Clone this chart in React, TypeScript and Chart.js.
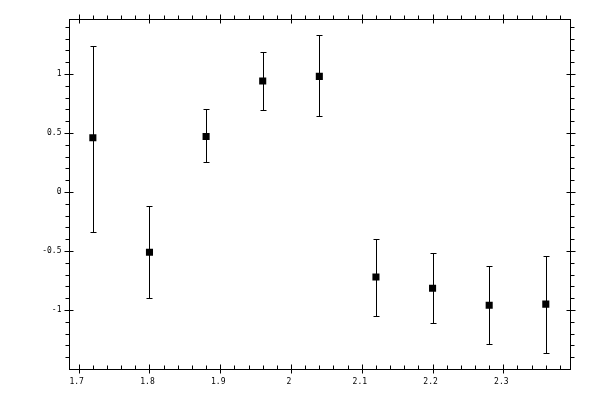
import { useEffect, useRef } from "react";
import { Chart, registerables } from "chart.js";

Chart.register(...registerables);

// 測定点 (x, y) と誤差範囲
const xValues = [1.72, 1.8, 1.88, 1.96, 2.04, 2.12, 2.2, 2.28, 2.36];
const yValues = [0.46, -0.51, 0.47, 0.94, 0.98, -0.72, -0.815, -0.96, -0.95];
const yUpper = [1.235, -0.12, 0.7, 1.19, 1.33, -0.395, -0.52, -0.625, -0.545];
const yLower = [-0.335, -0.9, 0.252, 0.692, 0.641, -1.053, -1.113, -1.291, -1.367];

// 軸の目盛り
const xMajorTicks = [1.7, 1.8, 1.9, 2.0, 2.1, 2.2, 2.3];
const xTickLabels = ["1.7", "1.8", "1.9", "2", "2.1", "2.2", "2.3"];
const yMajorTicks = [-1, -0.5, 0, 0.5, 1];
const yTickLabels = ["-1", "-0.5", "0", "0.5", "1"];
const xMinorStep = 0.02;
const yMinorStep = 0.1;

const X_MIN = 1.687;
const X_MAX = 2.3949;
const Y_MIN = -1.504;
const Y_MAX = 1.4619;

const FONT = "8px 'DejaVu Sans Mono'";

// 誤差棒を描くプラグイン
const errorBarPlugin = {
  id: "errorBars",
  beforeDatasetsDraw(chart: any) {
    const { ctx, scales } = chart;
    const xs = scales.x;
    const ys = scales.y;
    ctx.save();
    ctx.strokeStyle = "#000";
    ctx.lineWidth = 1;
    xValues.forEach((xv, i) => {
      const px = Math.round(xs.getPixelForValue(xv)) + 0.5;
      const top = Math.round(ys.getPixelForValue(yUpper[i])) + 0.5;
      const bot = Math.round(ys.getPixelForValue(yLower[i])) + 0.5;
      ctx.beginPath();
      ctx.moveTo(px, top);
      ctx.lineTo(px, bot);
      ctx.moveTo(px - 3, top);
      ctx.lineTo(px + 3, top);
      ctx.moveTo(px - 3, bot);
      ctx.lineTo(px + 3, bot);
      ctx.stroke();
    });
    ctx.restore();
  },
};

// 枠と目盛りを描くプラグイン
const framePlugin = {
  id: "frameTicks",
  afterDraw(chart: any) {
    const { ctx, chartArea, scales } = chart;
    const xs = scales.x;
    const ys = scales.y;
    const L = Math.floor(chartArea.left) + 0.5;
    const R = Math.floor(chartArea.right) + 0.5;
    const T = Math.floor(chartArea.top) + 0.5;
    const B = Math.floor(chartArea.bottom) + 0.5;
    ctx.save();
    ctx.strokeStyle = "#000";
    ctx.lineWidth = 1;
    ctx.strokeRect(L, T, R - L, B - T);

    ctx.beginPath();
    // x minor
    for (let v = Math.ceil(X_MIN / xMinorStep) * xMinorStep; v <= X_MAX; v += xMinorStep) {
      const px = Math.round(xs.getPixelForValue(v)) + 0.5;
      if (px - L < 2 || R - px < 2) continue;
      ctx.moveTo(px, T);
      ctx.lineTo(px, T - 4);
      ctx.moveTo(px, B);
      ctx.lineTo(px, B - 4);
    }
    // y minor
    for (let v = Math.ceil(Y_MIN / yMinorStep) * yMinorStep; v <= Y_MAX; v += yMinorStep) {
      const py = Math.round(ys.getPixelForValue(v)) + 0.5;
      if (py - T < 2 || B - py < 2) continue;
      ctx.moveTo(L, py);
      ctx.lineTo(L - 4, py);
      ctx.moveTo(R, py);
      ctx.lineTo(R + 4, py);
    }
    // x major
    xMajorTicks.forEach((v) => {
      const px = Math.round(xs.getPixelForValue(v)) + 0.5;
      ctx.moveTo(px, T - 5);
      ctx.lineTo(px, T + 4);
      ctx.moveTo(px, B - 5);
      ctx.lineTo(px, B + 4);
    });
    // y major
    yMajorTicks.forEach((v) => {
      const py = Math.round(ys.getPixelForValue(v)) + 0.5;
      ctx.moveTo(L - 5, py);
      ctx.lineTo(L + 4, py);
      ctx.moveTo(R - 4, py);
      ctx.lineTo(R + 5, py);
    });
    ctx.stroke();

    ctx.fillStyle = "#000";
    ctx.font = FONT;
    ctx.textBaseline = "middle";
    ctx.textAlign = "center";
    xMajorTicks.forEach((v, i) => {
      const px = xs.getPixelForValue(v);
      ctx.fillText(xTickLabels[i], px - 2, B + 12);
    });
    ctx.textAlign = "right";
    yMajorTicks.forEach((v, i) => {
      const py = ys.getPixelForValue(v);
      ctx.fillText(yTickLabels[i], L - 8, py);
    });
    ctx.restore();
  },
};

export default function App() {
  const canvasRef = useRef<HTMLCanvasElement>(null);
  const chartRef = useRef<Chart | null>(null);

  useEffect(() => {
    if (!canvasRef.current) return;
    chartRef.current?.destroy();
    chartRef.current = new Chart(canvasRef.current, {
      type: "scatter",
      data: {
        datasets: [
          {
            data: xValues.map((x, i) => ({ x, y: yValues[i] })),
            pointStyle: "rect",
            pointRadius: 5,
            pointBorderWidth: 0,
            backgroundColor: "#000",
            borderColor: "#000",
          },
        ],
      },
      options: {
        responsive: false,
        animation: false,
        devicePixelRatio: 1,
        layout: { padding: { left: 69.5, right: 29.5, top: 19.5, bottom: 30.5 } },
        plugins: { legend: { display: false }, tooltip: { enabled: false } },
        scales: {
          x: { type: "linear", min: X_MIN, max: X_MAX, display: false },
          y: { type: "linear", min: Y_MIN, max: Y_MAX, display: false },
        },
      },
      plugins: [errorBarPlugin, framePlugin],
    });
    return () => {
      chartRef.current?.destroy();
      chartRef.current = null;
    };
  }, []);

  return (
    <div style={{ position: "fixed", left: 0, top: 0, width: 600, height: 400, background: "#fff" }}>
      <canvas ref={canvasRef} width={600} height={400} />
    </div>
  );
}
